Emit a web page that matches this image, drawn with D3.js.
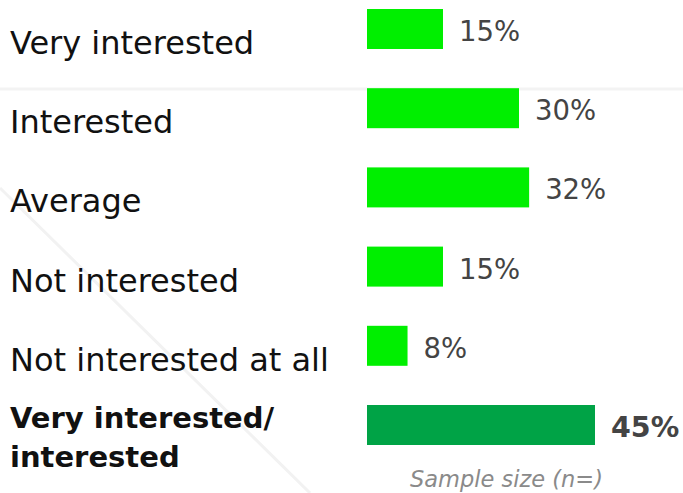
<!DOCTYPE html>
<html>
<head>
<meta charset="utf-8">
<script src="https://cdn.jsdelivr.net/npm/d3@7"></script>
<style>
  html, body { margin: 0; padding: 0; background: #fff; }
  svg { display: block; }
</style>
</head>
<body>
<svg id="chart" width="683" height="493"></svg>
<script>
const categories = ["Very interested", "Interested", "Average", "Not interested", "Not interested at all", "Very interested/ interested"];
const values = [15, 30, 32, 15, 8, 45];
const highlight = [false, false, false, false, false, true];
const valueLabels = ["15%", "30%", "32%", "15%", "8%", "45%"];
const footnote = "Sample size (n=)";

const svg = d3.select("#chart");
const W = 683, H = 493;

// faint decorative background lines
svg.append("line").attr("x1", 0).attr("x2", W).attr("y1", 89).attr("y2", 89)
  .attr("stroke", "#f3f3f3").attr("stroke-width", 3);
svg.append("line").attr("x1", 0).attr("y1", 188).attr("x2", 310).attr("y2", 493)
  .attr("stroke", "#f2f2f2").attr("stroke-width", 3);

const x = d3.scaleLinear().domain([0, 45]).range([367, 595]);
const y = d3.scaleBand().domain(categories).range([9, 445]).paddingInner(0.495).paddingOuter(0);

const font = "'DejaVu Sans', sans-serif";

svg.selectAll("rect.bar").data(categories).join("rect")
  .attr("class", "bar")
  .attr("x", x(0))
  .attr("y", d => y(d))
  .attr("width", (d, i) => x(values[i]) - x(0))
  .attr("height", y.bandwidth())
  .attr("fill", (d, i) => highlight[i] ? "#00a346" : "#00ef00");

svg.selectAll("text.val").data(categories).join("text")
  .attr("class", "val")
  .attr("x", (d, i) => x(values[i]) + 16)
  .attr("y", d => y(d) + y.bandwidth() / 2 + 12)
  .attr("font-family", font)
  .attr("font-size", (d, i) => highlight[i] ? 28.5 : 27.5)
  .attr("font-weight", (d, i) => highlight[i] ? "bold" : "normal")
  .attr("fill", "#444")
  .text((d, i) => valueLabels[i]);

svg.selectAll("text.cat").data(categories).join("text")
  .attr("class", "cat")
  .attr("x", 10)
  .attr("y", d => y(d) + 45)
  .attr("font-family", font)
  .attr("font-size", (d, i) => highlight[i] ? 29 : 32)
  .attr("font-weight", (d, i) => highlight[i] ? "bold" : "normal")
  .attr("fill", "#111")
  .each(function(d, i) {
    const t = d3.select(this);
    if (highlight[i]) {
      const parts = d.split(" ");
      const line1 = parts.slice(0, 2).join(" ");
      const line2 = parts.slice(2).join(" ");
      t.attr("y", y(d) + 23);
      t.append("tspan").attr("x", 10).text(line1);
      t.append("tspan").attr("x", 10).attr("dy", 39).text(line2);
    } else {
      t.text(d);
    }
  });

svg.append("text")
  .attr("x", 410).attr("y", 487)
  .attr("font-family", font)
  .attr("font-style", "italic")
  .attr("font-size", 22.5)
  .attr("fill", "#8a8a8a")
  .text(footnote);
</script>
</body>
</html>
